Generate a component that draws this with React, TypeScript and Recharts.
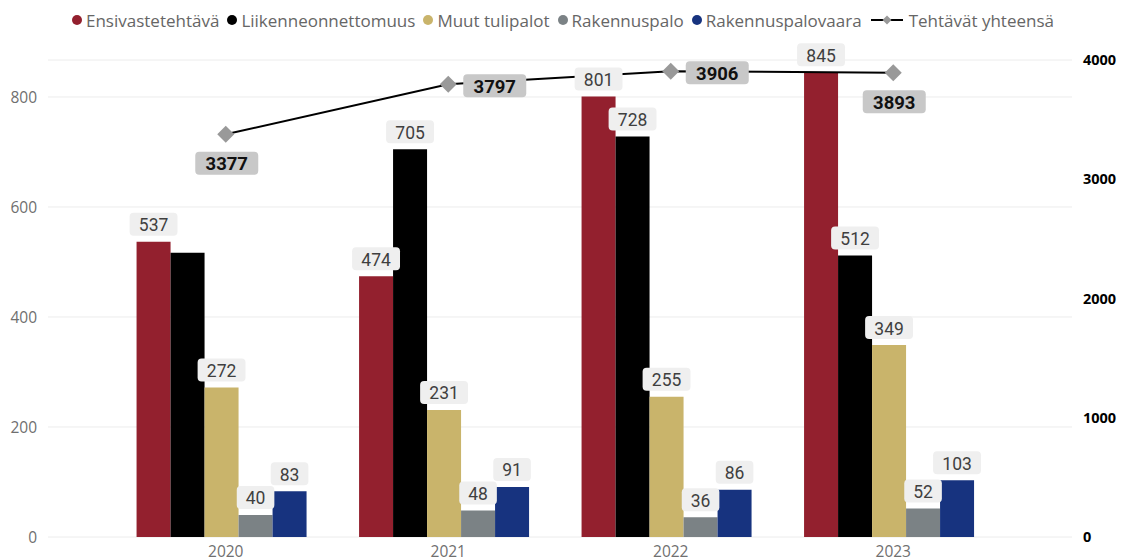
import React from 'react';
import { ComposedChart, Bar, Line, XAxis, YAxis, CartesianGrid, Legend, LabelList } from 'recharts';

const years = ['2020', '2021', '2022', '2023'];
const ensivastetehtava = [537, 474, 801, 845];
const liikenneonnettomuus = [517, 705, 728, 512];
const muutTulipalot = [272, 231, 255, 349];
const rakennuspalo = [40, 48, 36, 52];
const rakennuspalovaara = [83, 91, 86, 103];
const tehtavatYhteensa = [3377, 3797, 3906, 3893];

const barSeriesNames = ['Ensivastetehtävä', 'Liikenneonnettomuus', 'Muut tulipalot', 'Rakennuspalo', 'Rakennuspalovaara'];
const lineSeriesName = 'Tehtävät yhteensä';
const barSeriesValues = [ensivastetehtava, liikenneonnettomuus, muutTulipalot, rakennuspalo, rakennuspalovaara];
const leftTicks = [0, 200, 400, 600, 800];
const rightTicks = [0, 1000, 2000, 3000, 4000];

const barColors = ['#93202e', '#000000', '#c9b46b', '#7b8285', '#17337f'];
const hiddenBarLabels: [number, number][] = [[1, 0]];
const totalLabelPlacement = ['below', 'right', 'right', 'below'];

const data = years.map((year, i) => {
  const row: any = { year, total: tehtavatYhteensa[i] };
  barSeriesValues.forEach((vals, s) => {
    row['s' + s] = vals[i];
  });
  return row;
});

const LABEL_FONT = 'Roboto, "DejaVu Sans", sans-serif';
const TEXT_FONT = '"Open Sans", "Noto Sans", sans-serif';

const makeBarLabel = (seriesIdx: number) => (props: any) => {
  const { x, y, width, value, index } = props;
  if (hiddenBarLabels.some(([s, i]) => s === seriesIdx && i === index)) return null;
  const txt = String(value);
  const w = txt.length * 10.3 + 17;
  const h = 23;
  const cx = Number(x) + Number(width) / 2;
  const top = Number(y) - 6 - h;
  return (
    <g>
      <rect x={cx - w / 2} y={top} width={w} height={h} rx={4} ry={4} fill="#efefef" />
      <text x={cx} y={top + h / 2 + 1} textAnchor="middle" dominantBaseline="central" fontSize={17.5} fill="#3f3f3f" fontFamily={LABEL_FONT}>
        {txt}
      </text>
    </g>
  );
};

const totalLabel = (props: any) => {
  const { x, y, value, index } = props;
  const w = 63;
  const h = 23;
  const px = Number(x);
  const py = Number(y);
  let bx: number;
  let by: number;
  if (totalLabelPlacement[index] === 'right') {
    bx = px + 15;
    by = py - h / 2 + 1.5;
  } else {
    bx = px - w / 2 + 1;
    by = py + 29 - h / 2;
  }
  return (
    <g>
      <rect x={bx} y={by} width={w} height={h} rx={4} ry={4} fill="#c8c8c8" />
      <text x={bx + w / 2} y={by + h / 2 + 1} textAnchor="middle" dominantBaseline="central" fontSize={18.5} fontWeight={700} fill="#111" fontFamily={LABEL_FONT}>
        {String(value)}
      </text>
    </g>
  );
};

const diamondDot = (props: any) => {
  const { cx, cy, index } = props;
  const r = 8.5;
  return <path key={'d' + index} d={`M${cx},${cy - r} L${cx + r},${cy} L${cx},${cy + r} L${cx - r},${cy} Z`} fill="#999999" />;
};

const YearTick = (props: any) => {
  const { x, payload } = props;
  return (
    <text x={Number(x)} y={550.5} textAnchor="middle" dominantBaseline="central" fontSize={15.5} fill="#707070" fontFamily={TEXT_FONT}>
      {payload.value}
    </text>
  );
};

const LegendRow = () => (
  <div style={{ height: 60, width: 1121 }}>
    <div style={{ height: 40, display: 'flex', alignItems: 'center', paddingLeft: 72, fontFamily: TEXT_FONT, fontSize: 17, color: '#666666', whiteSpace: 'nowrap' }}>
      {barSeriesNames.map((name, i) => (
        <div key={name} style={{ display: 'flex', alignItems: 'center', marginRight: 8 }}>
          <span style={{ width: 10, height: 10, borderRadius: 5, background: barColors[i], display: 'inline-block', marginRight: 4 }} />
          <span>{name}</span>
        </div>
      ))}
      <div style={{ display: 'flex', alignItems: 'center' }}>
        <svg width={34} height={12} style={{ marginRight: 5 }}>
          <line x1={1} y1={6} x2={33} y2={6} stroke="#000" strokeWidth={2} />
          <path d="M17,1.5 L21.5,6 L17,10.5 L12.5,6 Z" fill="#999" />
        </svg>
        <span>{lineSeriesName}</span>
      </div>
    </div>
  </div>
);

export default function App() {
  return (
    <div style={{ position: 'absolute', left: 0, top: 0, width: 1121, height: 559, background: '#fff' }}>
      <ComposedChart width={1121} height={559} data={data} margin={{ top: 0, right: 0, bottom: 0, left: 0 }} barCategoryGap="11.6%" barGap={0}>
        <CartesianGrid yAxisId="left" xAxisId="line" horizontal vertical={false} stroke="#ececec" />
        <XAxis xAxisId="bars" dataKey="year" hide padding={{ left: 62.75, right: 71.25 }} />
        <XAxis
          xAxisId="line"
          dataKey="year"
          padding={{ left: 66.5, right: 67.5 }}
          height={22}
          axisLine={{ stroke: '#e3e3e3' }}
          tickLine={false}
          tick={<YearTick />}
        />
        <YAxis
          yAxisId="left"
          width={48}
          domain={[0, 867.27]}
          ticks={leftTicks}
          axisLine={false}
          tickLine={false}
          tickMargin={5}
          tick={{ fill: '#6f6f6f', fontSize: 15.5, fontFamily: TEXT_FONT }}
        />
        <YAxis
          yAxisId="right"
          orientation="right"
          width={49}
          domain={[0, 4000]}
          ticks={rightTicks}
          axisLine={false}
          tickLine={false}
          tickMargin={5}
          tick={{ fill: '#000', fontSize: 14.5, fontWeight: 700, fontFamily: TEXT_FONT }}
        />
        <Legend verticalAlign="top" align="left" content={() => <LegendRow />} wrapperStyle={{ top: 0, left: 0 }} />
        {barSeriesNames.map((name, s) => (
          <Bar key={name} name={name} dataKey={'s' + s} xAxisId="bars" yAxisId="left" fill={barColors[s]} isAnimationActive={false}>
            <LabelList dataKey={'s' + s} content={makeBarLabel(s)} />
          </Bar>
        ))}
        <Line
          name={lineSeriesName}
          dataKey="total"
          xAxisId="line"
          yAxisId="right"
          stroke="#000"
          strokeWidth={2}
          dot={diamondDot}
          activeDot={false}
          isAnimationActive={false}
        >
          <LabelList dataKey="total" content={totalLabel} />
        </Line>
      </ComposedChart>
    </div>
  );
}
